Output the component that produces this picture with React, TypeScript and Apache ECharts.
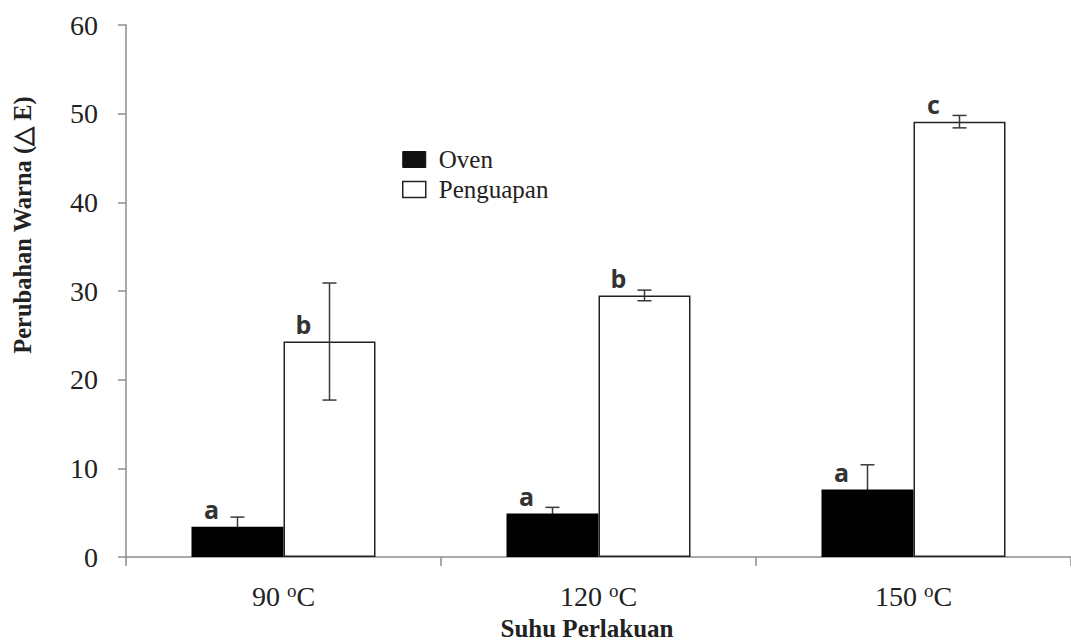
import React, { useEffect, useRef } from "react";
import * as echarts from "echarts";

const categories = ["90", "120", "150"];
const ovenValues = [3.4, 4.9, 7.6];
const ovenErrors = [1.1, 0.7, 2.8];
const penguapanValues = [24.3, 29.5, 49.1];
const penguapanErrors = [6.6, 0.6, 0.7];
const ovenLetters = ["a", "a", "a"];
const penguapanLetters = ["b", "b", "c"];
const yTicks = { min: 0, max: 60, interval: 10 };

const BAR_W = 92;

function errorSeries(values: number[], errors: number[], side: number, z: number) {
  return {
    type: "custom",
    z,
    silent: true,
    data: values.map((v, i) => [i, v - errors[i], v + errors[i]]),
    renderItem: (params: any, api: any) => {
      const idx = api.value(0);
      const lo = api.coord([idx, api.value(1)]);
      const hi = api.coord([idx, api.value(2)]);
      const x = lo[0] + (side * BAR_W) / 2;
      const cap = 7;
      const style = { stroke: "#3a3a3a", lineWidth: 1.5, fill: null };
      return {
        type: "group",
        children: [
          { type: "line", shape: { x1: x, y1: lo[1], x2: x, y2: hi[1] }, style },
          { type: "line", shape: { x1: x - cap, y1: hi[1], x2: x + cap, y2: hi[1] }, style },
          { type: "line", shape: { x1: x - cap, y1: lo[1], x2: x + cap, y2: lo[1] }, style },
        ],
      };
    },
  };
}

function letterLabel(letters: string[]) {
  return {
    show: true,
    position: "top",
    offset: [-26, 0],
    formatter: (p: any) => letters[p.dataIndex],
    fontFamily: "Open Sans, Liberation Sans, sans-serif",
    fontWeight: "bold",
    fontSize: 25,
    color: "#333",
  };
}

export default function App() {
  const ref = useRef<HTMLDivElement>(null);
  useEffect(() => {
    if (!ref.current) return;
    const chart = echarts.init(ref.current, null, { renderer: "svg" });
    const serif = "Liberation Serif, Times New Roman, serif";
    chart.setOption({
      animation: false,
      backgroundColor: "#ffffff",
      grid: { left: 126, top: 25, width: 948, height: 532, containLabel: false },
      legend: {
        orient: "vertical",
        left: 402,
        top: 147,
        padding: 0,
        itemWidth: 23,
        itemHeight: 16,
        itemGap: 5,
        textStyle: { fontFamily: serif, fontSize: 25, color: "#222", padding: [0, 0, 0, 8] },
        data: [
          { name: "Oven", icon: "rect", itemStyle: { color: "#111", borderColor: "#111", borderWidth: 1 } },
          { name: "Penguapan", icon: "rect", itemStyle: { color: "#fff", borderColor: "#222", borderWidth: 1.5 } },
        ],
      },
      xAxis: {
        type: "category",
        data: categories,
        boundaryGap: true,
        axisLine: { lineStyle: { color: "#8c8c8c", width: 1.5 } },
        axisTick: { show: true, length: 9, inside: false, lineStyle: { color: "#8c8c8c", width: 1.5 } },
        axisLabel: {
          margin: 24,
          formatter: (v: string) => `${v} {sup|o}C`,
          fontFamily: serif,
          fontSize: 28,
          lineHeight: 30,
          color: "#222",
          rich: {
            sup: { fontFamily: serif, fontSize: 19, color: "#222", verticalAlign: "top", lineHeight: 28 },
          },
        },
      },
      yAxis: {
        type: "value",
        min: yTicks.min,
        max: yTicks.max,
        interval: yTicks.interval,
        splitLine: { show: false },
        axisLine: { show: true, lineStyle: { color: "#8c8c8c", width: 1.5 } },
        axisTick: { show: true, length: 8, lineStyle: { color: "#8c8c8c", width: 1.5 } },
        axisLabel: { margin: 28, fontFamily: serif, fontSize: 28, color: "#222" },
      },
      graphic: [
        {
          type: "text",
          x: 22,
          y: 225,
          rotation: Math.PI / 2,
          style: {
            text: "Perubahan Warna (△ E)",
            fontFamily: serif,
            fontWeight: "bold",
            fontSize: 24.5,
            fill: "#222",
            align: "center",
            verticalAlign: "middle",
          },
        },
        {
          type: "text",
          x: 587,
          y: 628,
          style: {
            text: "Suhu Perlakuan",
            fontFamily: serif,
            fontWeight: "bold",
            fontSize: 25,
            fill: "#222",
            align: "center",
            verticalAlign: "middle",
          },
        },
      ],
      series: [
        errorSeries(ovenValues, ovenErrors, -1, 1),
        {
          name: "Oven",
          type: "bar",
          z: 2,
          barWidth: BAR_W,
          barGap: "0%",
          data: ovenValues,
          itemStyle: { color: "#000", borderColor: "#000", borderWidth: 0 },
          label: letterLabel(ovenLetters),
        },
        {
          name: "Penguapan",
          type: "bar",
          z: 2,
          barWidth: BAR_W,
          barGap: "0%",
          data: penguapanValues,
          itemStyle: { color: "#fff", borderColor: "#222", borderWidth: 1.5 },
          label: letterLabel(penguapanLetters),
        },
        errorSeries(penguapanValues, penguapanErrors, 1, 10),
      ],
    });
    return () => chart.dispose();
  }, []);
  return <div ref={ref} style={{ position: "fixed", left: 0, top: 0, width: 1071, height: 644 }} />;
}
